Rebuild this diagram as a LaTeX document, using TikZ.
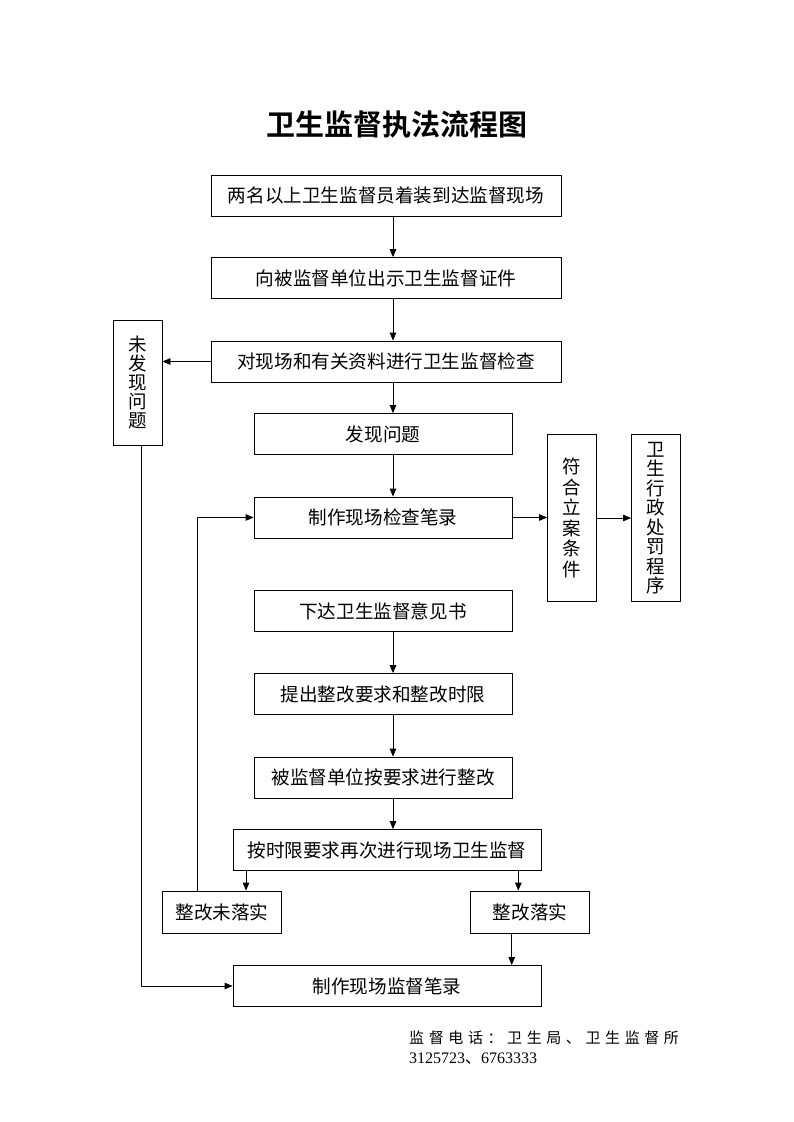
\documentclass[tikz,border=0pt]{standalone}
\usepackage{fontspec}
\setmainfont{Liberation Serif}
\newfontfamily\cjk{Noto Sans CJK SC}
\newfontfamily\cjkb{Noto Sans CJK SC Bold}
\usetikzlibrary{arrows.meta}
\newcommand\tgap{\hspace{4.6pt}}
\begin{document}
\begin{tikzpicture}[x=1pt,y=-1pt,
  box/.style={draw,line width=0.8pt,minimum height=41pt,inner sep=0pt,font=\cjk\fontsize{18.6}{20}\selectfont},
  vbox/.style={draw,line width=0.8pt,inner sep=0pt,align=center,minimum width=49pt},
  arr/.style={line width=0.8pt,-{Triangle[length=8pt,width=6.5pt]}}]
\useasboundingbox (0,0) rectangle (793,1122);
\coordinate (ax) at (393,0);
\node[font=\cjkb\fontsize{29}{32}\selectfont] (title) at (397,125) {卫生监督执法流程图};
\node[box,minimum width=350pt] (b1) at (386,195.5) {两名以上卫生监督员着装到达监督现场};
\node[box,minimum width=350pt] (b2) at (386,278) {向被监督单位出示卫生监督证件};
\node[box,minimum width=350pt] (b3) at (386,361.5) {对现场和有关资料进行卫生监督检查};
\node[box,minimum width=258pt] (b4) at (383,434) {发现问题};
\node[box,minimum width=258pt] (b5) at (383,517.5) {制作现场检查笔录};
\node[box,minimum width=258pt] (b6) at (383,611) {下达卫生监督意见书};
\node[box,minimum width=258pt] (b7) at (383,694) {提出整改要求和整改时限};
\node[box,minimum width=258pt] (b8) at (383,777.5) {被监督单位按要求进行整改};
\node[box,minimum width=308pt] (b9) at (387,850) {按时限要求再次进行现场卫生监督};
\node[box,minimum width=119pt,minimum height=42pt] (b10) at (222,912) {整改未落实};
\node[box,minimum width=119pt,minimum height=42pt] (b11) at (530,912) {整改落实};
\node[box,minimum width=308pt] (b12) at (387,986) {制作现场监督笔录};
\node[vbox,minimum height=125pt,font=\cjk\fontsize{18.5}{19}\selectfont] (wf) at (137.5,382.5) {未\\发\\现\\问\\题};
\node[vbox,minimum height=167pt,font=\cjk\fontsize{18.5}{20.5}\selectfont] (fh) at (572,518) {符\\合\\立\\案\\条\\件};
\node[vbox,minimum height=167pt,font=\cjk\fontsize{18.5}{19.5}\selectfont] (ws) at (656,518) {卫\\生\\行\\政\\处\\罚\\程\\序};
\node[anchor=west,inner sep=0pt,font=\cjk\fontsize{15}{18}\selectfont] (tel) at (409,1038) {监\tgap 督\tgap 电\tgap 话\tgap ：\tgap 卫\tgap 生\tgap 局\tgap 、\tgap 卫\tgap 生\tgap 监\tgap 督\tgap 所};
\node[anchor=west,inner sep=0pt,font=\fontsize{16}{18}\selectfont] (num) at (409,1059) {3125723{\cjk 、}6763333};
\draw[arr] (b1.south -| ax) -- (b2.north -| ax);
\draw[arr] (b2.south -| ax) -- (b3.north -| ax);
\draw[arr] (b3.south -| ax) -- (b4.north -| ax);
\draw[arr] (b4.south -| ax) -- (b5.north -| ax);
\draw[arr] (b6.south -| ax) -- (b7.north -| ax);
\draw[arr] (b7.south -| ax) -- (b8.north -| ax);
\draw[arr] (b8.south -| ax) -- (b9.north -| ax);
\draw[arr] (b3.west) -- (b3.west -| wf.east);
\draw[arr] ([xshift=3.5pt]wf.south) |- (b12.west);
\draw[arr] ([xshift=-24.3pt]b10.north) |- (b5.west);
\draw[arr] (b5.east) -- (b5.east -| fh.west);
\draw[arr] (fh.east) -- (fh.east -| ws.west);
\draw[arr] ([xshift=-141pt]b9.south) -- ([xshift=-141pt]b9.south |- b10.north);
\draw[arr] ([xshift=131.3pt]b9.south) -- ([xshift=131.3pt]b9.south |- b11.north);
\draw[arr] ([xshift=-18.3pt]b11.south) -- ([xshift=-18.3pt]b11.south |- b12.north);
\end{tikzpicture}
\end{document}
